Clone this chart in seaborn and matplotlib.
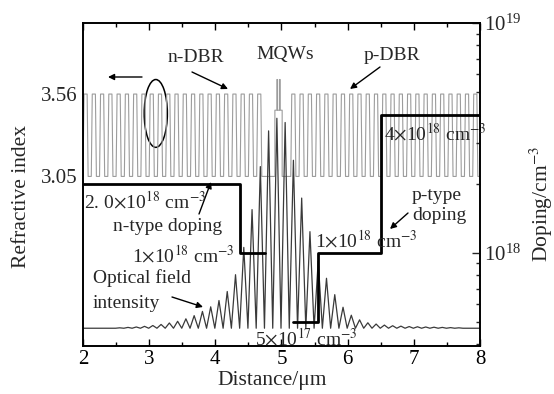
import numpy as np
import pandas as pd
import matplotlib
matplotlib.use('Agg')
import matplotlib.pyplot as plt
from matplotlib.patches import Ellipse
from matplotlib.ticker import MultipleLocator, NullFormatter, LogLocator
import seaborn as sns

# ---- data ----
# refractive index of the two DBR layers and mirror layout (um)
n_high = 3.56
n_low = 3.05
dbr_period = 0.125
n_dbr_start, n_dbr_pairs = 2.0, 22
p_dbr_start, p_dbr_pairs = 5.14, 23
# cavity / MQW part of the index profile
cavity_x = [4.75, 4.90, 4.90, 4.93, 4.93, 4.94, 4.94, 4.97, 4.97, 4.98, 4.98, 5.01, 5.01, 5.14]
cavity_n = [3.05, 3.05, 3.46, 3.46, 3.65, 3.65, 3.46, 3.46, 3.65, 3.65, 3.46, 3.46, 3.05, 3.05]

# optical field intensity: peak positions (um) and relative heights
peak_x = [2.555, 2.68, 2.805, 2.93, 3.055, 3.18, 3.305, 3.43, 3.555, 3.68,
          3.805, 3.93, 4.055, 4.18, 4.305, 4.43, 4.555, 4.68, 4.805, 4.93,
          5.055, 5.18, 5.305, 5.43, 5.555, 5.68, 5.805, 5.93, 6.055, 6.18,
          6.305, 6.43, 6.555, 6.68, 6.805, 6.93, 7.055, 7.18, 7.305, 7.43,
          7.555, 7.68]
peak_i = [0.002, 0.004, 0.006, 0.009, 0.013, 0.018, 0.025, 0.033, 0.045, 0.060,
          0.080, 0.102, 0.132, 0.175, 0.255, 0.385, 0.565, 0.77, 0.94, 1.00,
          0.98, 0.80, 0.62, 0.46, 0.32, 0.238, 0.16, 0.10, 0.062, 0.040,
          0.026, 0.020, 0.015, 0.012, 0.010, 0.008, 0.007, 0.006, 0.005, 0.004,
          0.003, 0.002]
field_base = 2.11
field_scale = 1.30

# doping profile (cm^-3), two separate pieces
dop_x = [[2.0, 4.37, 4.37, 4.75],
         [5.17, 5.55, 5.55, 6.5, 6.5, 8.0]]
dop_y = [[2e18, 2e18, 1e18, 1e18],
         [5e17, 5e17, 1e18, 1e18, 4e18, 4e18]]

# ---- build line tables ----
pair_fx = [0.0, 0.12, 0.50, 0.62]
pair_fn = [n_low, n_high, n_high, n_low]


def dbr(start, pairs):
    xs, ns = [], []
    for k in range(pairs):
        x0 = start + k * dbr_period
        xs += [x0 + f * dbr_period for f in pair_fx]
        ns += pair_fn
    xs.append(start + pairs * dbr_period)
    ns.append(n_low)
    return xs, ns


nx, nn = dbr(n_dbr_start, n_dbr_pairs)
px_, pn = dbr(p_dbr_start, p_dbr_pairs)
index_df = pd.DataFrame({'x': nx + cavity_x + px_, 'n': nn + cavity_n + pn})

fx = [2.0]
fi = [0.0]
for k, (xp, ip) in enumerate(zip(peak_x, peak_i)):
    if k == 0:
        fx.append(xp - dbr_period / 2)
    else:
        fx.append((peak_x[k - 1] + xp) / 2)
    fi.append(0.0)
    fx.append(xp)
    fi.append(ip)
fx += [peak_x[-1] + dbr_period / 2, 8.0]
fi += [0.0, 0.0]
field_df = pd.DataFrame({'x': fx, 'v': field_base + field_scale * np.array(fi)})

dop_df = pd.concat([pd.DataFrame({'x': x, 'y': y, 'seg': i})
                    for i, (x, y) in enumerate(zip(dop_x, dop_y))])

# ---- plot ----
sns.set_theme(style='ticks')
plt.rcParams['font.family'] = ['Liberation Serif', 'DejaVu Serif']
plt.rcParams['mathtext.fontset'] = 'stix'

W, H = 554, 394
fig = plt.figure(figsize=(W / 100, H / 100), dpi=100)
ax = fig.add_axes([83 / W, 1 - 346 / H, 397 / W, 323 / H])


def P(x, y):
    return (x / W, 1 - y / H)


sns.lineplot(data=index_df, x='x', y='n', sort=False, estimator=None, ax=ax,
             color='#9c9c9c', linewidth=0.8)
sns.lineplot(data=field_df, x='x', y='v', sort=False, estimator=None, ax=ax,
             color='#3a3a3a', linewidth=0.9)

ax.set_xlim(2, 8)
ax.set_ylim(2, 4)
ax.set_xticks([2, 3, 4, 5, 6, 7, 8])
ax.xaxis.set_minor_locator(MultipleLocator(0.5))
ax.set_yticks([3.05, 3.56])
ax.set_yticklabels(['3.05', '3.56'])
ax.tick_params(axis='x', which='both', direction='in', top=True, labelsize=15,
               pad=3, color='black', labelcolor='black')
ax.tick_params(axis='x', which='major', length=5, width=1)
ax.tick_params(axis='x', which='minor', length=3, width=1)
ax.tick_params(axis='y', direction='in', length=0, labelsize=15, pad=4)
ax.set_xlabel('')
ax.set_ylabel('')

ax2 = ax.twinx()
sns.lineplot(data=dop_df, x='x', y='y', units='seg', sort=False, estimator=None,
             ax=ax2, color='black', linewidth=2.0, legend=False)
ax2.set_yscale('log')
ax2.set_ylim(3.94e17, 1e19)
ax2.set_xlim(2, 8)
ax2.yaxis.set_major_locator(LogLocator(base=10))
ax2.yaxis.set_minor_locator(LogLocator(base=10, subs=np.arange(2, 10)))
ax2.yaxis.set_minor_formatter(NullFormatter())
ax2.tick_params(axis='y', which='both', direction='in', labelsize=15, pad=3)
ax2.tick_params(axis='y', which='major', length=6, width=1)
ax2.tick_params(axis='y', which='minor', length=3, width=1)
ax2.set_ylabel('')
ax2.set_xlabel('')

for a in (ax, ax2):
    for s in a.spines.values():
        s.set_linewidth(1.2)
        s.set_color('black')

# axis titles
fig.text(*P(22, 197), 'Refractive index', rotation=90, ha='center', va='center', fontsize=15.5)
fig.text(*P(541, 204), 'Doping/cm$^{-3}$', rotation=90, ha='center', va='center', fontsize=15.5)
fig.text(*P(272, 381), 'Distance/μm', ha='center', va='center', fontsize=15.5)

# annotations
fs = 14
fig.text(*P(196, 58), 'n-DBR', ha='center', va='center', fontsize=fs)
fig.text(*P(285, 55), 'MQWs', ha='center', va='center', fontsize=fs)
fig.text(*P(392, 55), 'p-DBR', ha='center', va='center', fontsize=fs)
fig.text(*P(84, 201), r'2. 0$\times$10$^{18}$ cm$^{-3}$', ha='left', va='center', fontsize=fs)
fig.text(*P(168, 226), 'n-type doping', ha='center', va='center', fontsize=fs)
fig.text(*P(235, 255), r'1$\times$10$^{18}$ cm$^{-3}$', ha='right', va='center', fontsize=fs)
fig.text(*P(93, 278), 'Optical field', ha='left', va='center', fontsize=fs)
fig.text(*P(93, 303), 'intensity', ha='left', va='center', fontsize=fs)
fig.text(*P(255, 338), r'5$\times$10$^{17}$ cm$^{-3}$', ha='left', va='center', fontsize=fs)
fig.text(*P(315, 240), r'1$\times$10$^{18}$ cm$^{-3}$', ha='left', va='center', fontsize=fs)
fig.text(*P(412, 196), 'p-type', ha='left', va='center', fontsize=fs)
fig.text(*P(412, 216), 'doping', ha='left', va='center', fontsize=fs)
fig.text(*P(384, 133), r'4$\times$10$^{18}$ cm$^{-3}$', ha='left', va='center', fontsize=fs)

arrows = [((228, 89), (192, 72)),
          ((350, 89), (380, 67)),
          ((108, 77), (142, 77)),
          ((211, 182), (199, 214)),
          ((203, 307), (172, 297)),
          ((390, 229), (408, 213))]
for tip, tail in arrows:
    ax.annotate('', xy=P(*tip), xytext=P(*tail), xycoords='figure fraction',
                textcoords='figure fraction',
                arrowprops=dict(arrowstyle='-|>', color='black', lw=1,
                                mutation_scale=9, shrinkA=0, shrinkB=0))

ax.add_patch(Ellipse((3.10, 3.44), 0.35, 0.42, fill=False, edgecolor='black', lw=1.1))

fig.savefig('out.png', dpi=100)
